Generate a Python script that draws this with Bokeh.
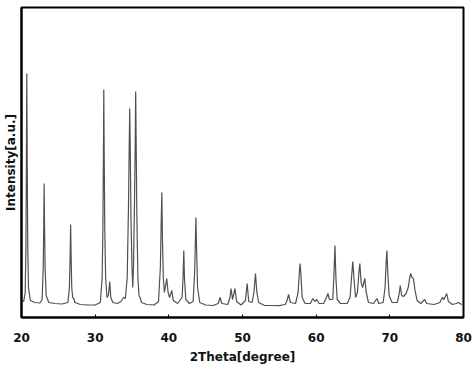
from bokeh.plotting import figure
from bokeh.models import Range1d, FixedTicker
from bokeh.embed import file_html
from bokeh.resources import INLINE

two_theta = [
    20.00, 20.30, 20.50, 20.60, 20.66, 20.72, 20.78, 20.85, 20.95, 21.20, 21.80, 22.50,
    22.80, 22.95, 23.02, 23.07, 23.13, 23.20, 23.35, 23.70, 24.50, 25.50, 26.30, 26.50,
    26.60, 26.67, 26.74, 26.82, 26.95, 27.10, 27.25, 28.00, 29.00, 30.00, 30.70, 30.95,
    31.05, 31.12, 31.17, 31.23, 31.30, 31.42, 31.60, 31.80, 31.98, 32.12, 32.40, 33.00,
    33.50, 33.87, 34.10, 34.35, 34.52, 34.62, 34.69, 34.76, 34.86, 35.00, 35.10, 35.20,
    35.33, 35.43, 35.50, 35.57, 35.66, 35.80, 35.95, 36.10, 36.30, 37.00, 38.00, 38.60,
    38.85, 38.95, 39.05, 39.13, 39.25, 39.40, 39.72, 39.90, 40.10, 40.40, 40.60, 41.20,
    41.80, 41.93, 42.03, 42.12, 42.30, 42.80, 43.30, 43.50, 43.60, 43.68, 43.76, 43.90,
    44.20, 45.00, 46.00, 46.70, 46.95, 47.20, 48.00, 48.30, 48.45, 48.65, 48.98, 49.20,
    49.80, 50.40, 50.63, 50.85, 51.30, 51.55, 51.76, 51.95, 52.20, 53.00, 54.00, 55.00,
    55.80, 56.05, 56.26, 56.50, 57.20, 57.55, 57.72, 57.82, 57.95, 58.10, 58.50, 59.20,
    59.55, 59.80, 60.10, 60.40, 61.00, 61.40, 61.60, 61.80, 62.25, 62.40, 62.55, 62.68,
    62.85, 63.30, 64.20, 64.60, 64.80, 64.97, 65.12, 65.35, 65.60, 65.80, 65.93, 66.10,
    66.30, 66.60, 66.80, 67.10, 67.80, 68.24, 68.50, 69.10, 69.35, 69.50, 69.60, 69.72,
    69.90, 70.30, 71.00, 71.25, 71.42, 71.60, 71.85, 72.20, 72.50, 72.70, 72.84, 73.00,
    73.20, 73.40, 73.70, 74.20, 74.73, 75.00, 76.00, 76.80, 77.12, 77.35, 77.72, 77.95,
    78.50, 79.00, 79.30, 79.60, 80.00,
]
intensity = [
    170, 160, 250, 700, 1500, 2440, 1500, 700, 300, 170, 150, 145,
    180, 500, 900, 1340, 900, 500, 220, 150, 140, 135, 150, 300,
    600, 930, 600, 300, 200, 190, 150, 130, 125, 125, 150, 400,
    900, 1600, 2280, 1600, 900, 400, 200, 220, 360, 200, 150, 140,
    160, 200, 190, 400, 1100, 1700, 2090, 1700, 1000, 500, 300, 500,
    1100, 1700, 2260, 1700, 1000, 400, 220, 200, 150, 130, 125, 160,
    500, 900, 1250, 800, 400, 250, 390, 250, 200, 270, 170, 140,
    200, 400, 670, 400, 180, 140, 160, 450, 750, 1000, 700, 300,
    150, 125, 120, 140, 200, 140, 130, 200, 290, 180, 290, 160,
    125, 170, 340, 160, 150, 250, 440, 250, 150, 120, 120, 118,
    130, 170, 230, 150, 140, 250, 450, 540, 400, 200, 140, 140,
    190, 160, 180, 140, 140, 200, 240, 180, 180, 400, 720, 400,
    180, 140, 140, 200, 400, 560, 400, 200, 250, 450, 540, 350,
    300, 390, 250, 150, 140, 190, 140, 150, 300, 550, 670, 450,
    220, 150, 150, 230, 320, 220, 210, 240, 300, 400, 440, 400,
    390, 280, 170, 140, 180, 140, 130, 150, 200, 180, 240, 160,
    130, 140, 150, 135, 130,
]
x_ticks = [20, 30, 40, 50, 60, 70, 80]
x_title = "2Theta[degree]"
y_title = "Intensity[a.u.]"

FONT = "DejaVu Sans"

p = figure(
    width=474, height=369,
    output_backend="svg", toolbar_location=None,
    x_range=Range1d(20, 80), y_range=Range1d(0, 3100),
    min_border_left=19, min_border_right=11, min_border_top=7, min_border_bottom=52,
    background_fill_color="white", border_fill_color="white",
)
p.line(two_theta, intensity, line_color="#505050", line_width=1.2)

p.grid.visible = False
p.outline_line_color = "black"
p.outline_line_width = 2
p.outline_line_alpha = 1.0

xa = p.xaxis[0]
xa.ticker = FixedTicker(ticks=x_ticks)
xa.major_tick_in = 3
xa.major_tick_out = 0
xa.minor_tick_line_color = None
xa.axis_line_color = "black"
xa.axis_line_width = 2
xa.major_tick_line_color = "black"
xa.major_label_text_font = FONT
xa.major_label_text_font_size = "12px"
xa.major_label_text_font_style = "bold"
xa.major_label_text_color = "#111111"
xa.major_label_standoff = 15
xa.axis_label = x_title
xa.axis_label_text_font = FONT
xa.axis_label_text_font_size = "12px"
xa.axis_label_text_font_style = "bold"
xa.axis_label_text_color = "#111111"
xa.axis_label_standoff = 5

ya = p.yaxis[0]
ya.ticker = FixedTicker(ticks=[])
ya.major_tick_line_color = None
ya.minor_tick_line_color = None
ya.axis_line_color = "black"
ya.axis_line_width = 2
ya.axis_label = y_title
ya.axis_label_text_font = FONT
ya.axis_label_text_font_size = "12px"
ya.axis_label_text_font_style = "bold"
ya.axis_label_text_color = "#111111"
ya.axis_label_standoff = 4

open("out.html", "w").write(file_html(p, INLINE))
